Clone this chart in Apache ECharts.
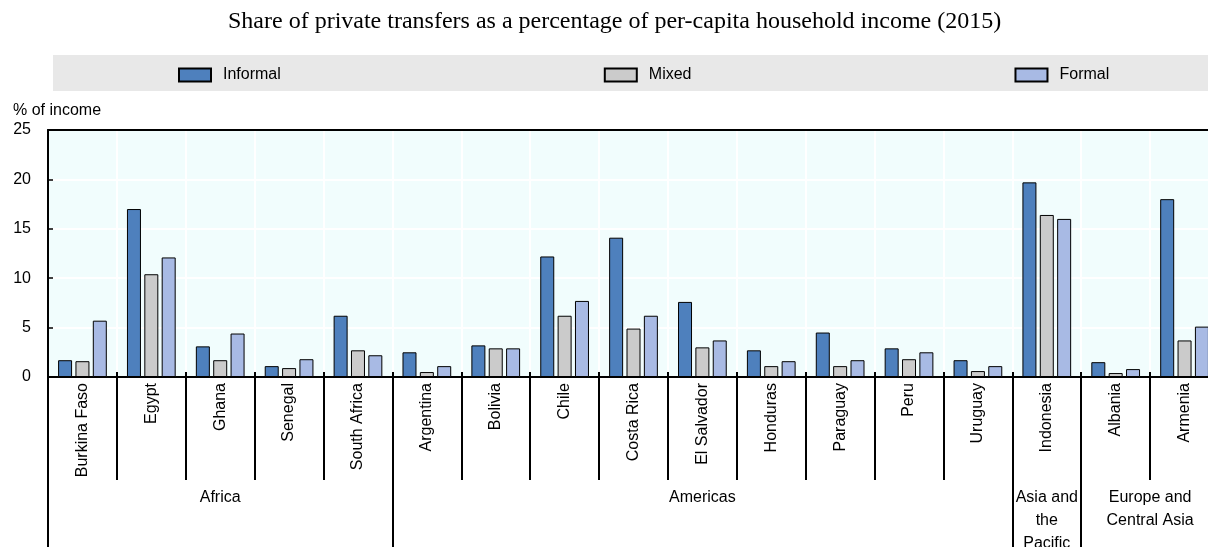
<!DOCTYPE html>
<html>
<head>
<meta charset="utf-8">
<script src="https://cdn.jsdelivr.net/npm/echarts@6/dist/echarts.min.js"></script>
<style>
  html, body { margin: 0; padding: 0; background: #fff; }
  #chart { width: 1208px; height: 547px; }
</style>
</head>
<body>
<div id="chart"></div>
<script>
// values (% of per-capita household income)
const countries = ['Burkina Faso', 'Egypt', 'Ghana', 'Senegal', 'South Africa', 'Argentina', 'Bolivia', 'Chile', 'Costa Rica', 'El Salvador', 'Honduras', 'Paraguay', 'Peru', 'Uruguay', 'Indonesia', 'Albania', 'Armenia'];
const informal = [1.7, 17.0, 3.1, 1.1, 6.2, 2.5, 3.2, 12.2, 14.1, 7.6, 2.7, 4.5, 2.9, 1.7, 19.7, 1.5, 18.0];
const mixed    = [1.6, 10.4, 1.7, 0.9, 2.7, 0.5, 2.9, 6.2, 4.9, 3.0, 1.1, 1.1, 1.8, 0.6, 16.4, 0.4, 3.7];
const formal   = [5.7, 12.1, 4.4, 1.8, 2.2, 1.1, 2.9, 7.7, 6.2, 3.7, 1.6, 1.7, 2.5, 1.1, 16.0, 0.8, 5.1];
const groupNames = ['Africa', 'Americas', 'Asia and\nthe\nPacific', 'Europe and\nCentral Asia'];
const groupSizes = [5, 9, 1, 2];
const yTicks = [0, 5, 10, 15, 20, 25];

// group boundaries and centres on a 0..n scale
let groupEdges = [0];
let groupCenters = [];
groupSizes.map(s => {
  let last = groupEdges[groupEdges.length - 1];
  groupCenters.push(last + s / 2);
  groupEdges.push(last + s);
});

const font = 'Liberation Sans, Arial, sans-serif';
let chart = echarts.init(document.getElementById('chart'));

function barSeries(name, data, color) {
  return {
    name, type: 'bar', data,
    barWidth: 14, barGap: '24%',
    itemStyle: { color, borderColor: '#000', borderWidth: 1 }
  };
}

let options = {
  animation: false,
  title: [
    {
      text: 'Share of private transfers as a percentage of per-capita household income (2015)',
      left: 228, top: 10, padding: 0,
      textStyle: { fontFamily: 'Liberation Serif, Times New Roman, serif', fontWeight: 'normal', fontSize: 24, color: '#000' }
    },
    {
      text: '% of income', left: 13, top: 103, padding: 0,
      textStyle: { fontFamily: font, fontWeight: 'normal', fontSize: 16, color: '#000' }
    }
  ],
  legend: {
    left: 53, top: 55, width: 960,
    padding: [12, 99, 8, 125],
    backgroundColor: '#e8e8e8',
    itemGap: 323, itemWidth: 32, itemHeight: 13,
    icon: 'rect',
    textStyle: { fontFamily: font, fontSize: 16, color: '#000', padding: [0, 0, 0, 7] },
    data: ['Informal', 'Mixed', 'Formal']
  },
  grid: {
    left: 48, top: 130, bottom: 170, right: -11, outerBoundsMode: 'none',
    show: true, backgroundColor: '#f1fdfd', borderWidth: 0
  },
  xAxis: [
    {
      type: 'category', data: countries, position: 'bottom',
      axisLine: { lineStyle: { color: '#000', width: 2 } },
      axisTick: { show: true, interval: 0, length: 103, lineStyle: { color: '#000', width: 2 } },
      axisLabel: { interval: 0, rotate: 90, margin: 6, fontFamily: font, fontSize: 16, color: '#000' },
      splitLine: { show: true, interval: 0, lineStyle: { color: '#fff', width: 2 } }
    },
    {
      type: 'value', min: 0, max: countries.length, position: 'bottom', offset: 103,
      axisLine: { show: false },
      splitLine: { show: false },
      axisTick: { show: true, customValues: groupEdges, length: 75, lineStyle: { color: '#000', width: 2 } },
      axisLabel: {
        customValues: groupCenters, margin: 6, fontFamily: font, fontSize: 16, color: '#000', lineHeight: 23,
        formatter: v => groupNames[groupCenters.indexOf(v)] || ''
      }
    },
    {
      type: 'category', data: countries, position: 'bottom',
      axisLine: { show: false },
      axisTick: { show: true, interval: 0, inside: true, length: 5, lineStyle: { color: '#000', width: 2 } },
      axisLabel: { show: false }
    },
    {
      type: 'category', data: countries, position: 'top',
      axisLine: { lineStyle: { color: '#000', width: 2 } },
      axisTick: { show: false },
      axisLabel: { show: false }
    }
  ],
  yAxis: {
    type: 'value', min: yTicks[0], max: yTicks[yTicks.length - 1], interval: 5,
    axisLine: { show: true, lineStyle: { color: '#000', width: 2 } },
    axisTick: { show: true, inside: true, length: 5, lineStyle: { color: '#000', width: 1.5 } },
    axisLabel: { margin: 17, fontFamily: font, fontSize: 16, color: '#000' },
    splitLine: { lineStyle: { color: '#fff', width: 2 } }
  },
  series: [
    barSeries('Informal', informal, '#4e80bd'),
    barSeries('Mixed', mixed, '#cbcbcb'),
    barSeries('Formal', formal, '#a8bae4')
  ]
};
chart.setOption(options);
</script>
</body>
</html>
